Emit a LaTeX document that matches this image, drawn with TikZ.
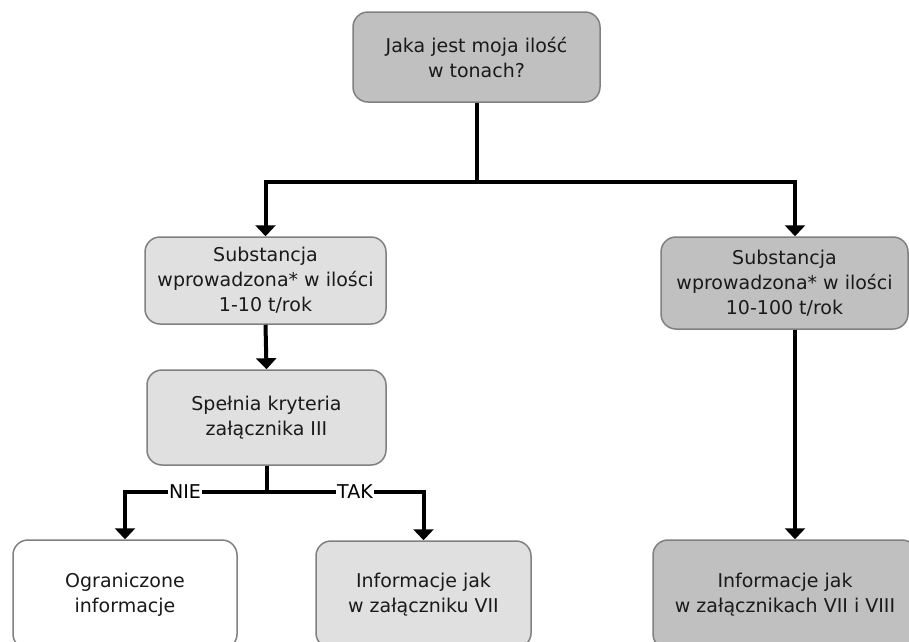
\documentclass[tikz,border=0pt]{standalone}
\usepackage{fontspec}
\setmainfont{DejaVu Sans}
\usetikzlibrary{arrows.meta}

\definecolor{boxdark}{HTML}{C0C0C0}
\definecolor{boxlight}{HTML}{E0E0E0}
\definecolor{boxedge}{HTML}{808080}
\definecolor{txt}{HTML}{1A1A1A}

\tikzset{
  box/.style={draw=boxedge, line width=1.5pt, rounded corners=15pt,
    align=center, inner sep=0pt, text=txt,
    font=\fontsize{19}{25}\selectfont},
  darkbox/.style={box, fill=boxdark},
  lightbox/.style={box, fill=boxlight},
  whitebox/.style={box, fill=white},
  link/.style={line width=4pt, black},
  arr/.style={link, -{Triangle[width=20pt,length=11pt]}},
  answer/.style={fill=white, inner sep=1pt, text=black,
    font=\fontsize{19}{22}\selectfont}
}

\begin{document}
\begin{tikzpicture}[x=1pt, y=-1pt]
  \clip (0,0) rectangle (909,641);
  \fill[white] (0,0) rectangle (909,641);

  % question
  \node[darkbox, minimum width=247pt, minimum height=90pt] (q) at (476.5,57)
    {Jaka jest moja ilość\\w tonach?};

  % tonnage bands
  \node[lightbox, minimum width=241pt, minimum height=87pt] (low) at (265.5,280.5)
    {Substancja\\wprowadzona* w ilości\\1-10 t/rok};
  \node[darkbox, minimum width=247pt, minimum height=92pt] (high) at (784.5,283)
    {Substancja\\wprowadzona* w ilości\\10-100 t/rok};

  % criteria check
  \node[lightbox, minimum width=239pt, minimum height=95pt] (crit) at (266.5,417.5)
    {Spełnia kryteria\\załącznika III};

  % outcomes
  \node[whitebox, minimum width=224pt, minimum height=109pt] (limited) at (125,594.5)
    {Ograniczone\\informacje};
  \node[lightbox, minimum width=215pt, minimum height=107pt] (annexVII) at (423.5,594.5)
    {Informacje jak\\w załączniku VII};
  \node[darkbox, minimum width=264pt, minimum height=109pt] (annexVIII) at (785,594.5)
    {Informacje jak\\w załącznikach VII i VIII};

  % junction points
  \coordinate (split) at (476.5,182);
  \coordinate (fork) at (266.5,492);
  \coordinate (highin) at ([xshift=10.5pt]high.north);
  \coordinate (highout) at ([xshift=10.5pt]high.south);
  \coordinate (viiiin) at (highout |- annexVIII.north);

  % connectors
  \draw[link] (q.south) -- (split);
  \draw[arr] (split) -| (low.north);
  \draw[arr] (split) -| (highin);
  \draw[arr] (low.south) -- (crit.north);
  \draw[link] (crit.south) -- (fork);
  \draw[arr] (fork) -| (limited.north);
  \draw[arr] (fork) -| (annexVII.north);
  \draw[arr] (highout) -- (viiiin);

  % answers on the branches
  \node[answer] (nie) at (185,492) {NIE};
  \node[answer] (tak) at (355,492) {TAK};
\end{tikzpicture}
\end{document}
